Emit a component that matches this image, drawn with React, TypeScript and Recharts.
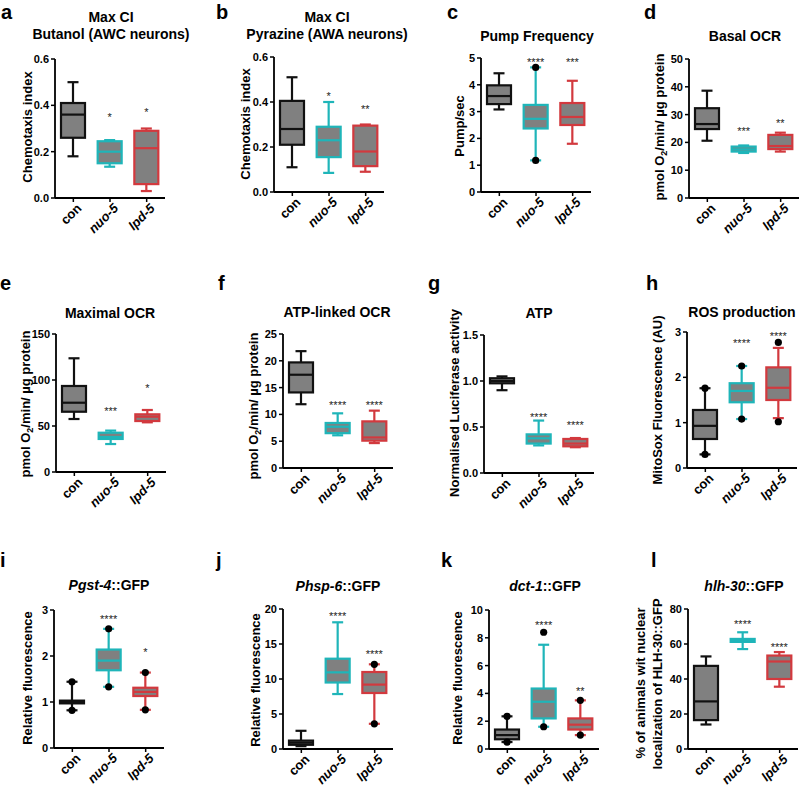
import React from "react";
import { Bar, ComposedChart, XAxis, YAxis } from "recharts";

const FONT = '"Liberation Sans", Arial, Helvetica, sans-serif';
const GROUPS = ["con", "nuo-5", "lpd-5"];
const COLORS = ["#111111", "#1fb5b9", "#d2393e"];
const BOX_FILL = "#808080";

// five-number summaries per group: [min, q1, median, q3, max]
const aBox = [[0.18, 0.26, 0.36, 0.41, 0.5], [0.135, 0.15, 0.2, 0.245, 0.25], [0.03, 0.06, 0.215, 0.29, 0.3]];
const aDots = [[], [], []];
const aSig = ["", "*", "*"];
const aSigAt = [0, 0.36, 0.38];
const aTicks = [0, 0.2, 0.4, 0.6];

const bBox = [[0.11, 0.21, 0.28, 0.405, 0.51], [0.085, 0.155, 0.23, 0.29, 0.4], [0.09, 0.115, 0.18, 0.295, 0.3]];
const bDots = [[], [], []];
const bSig = ["", "*", "**"];
const bSigAt = [0, 0.435, 0.377];
const bTicks = [0, 0.2, 0.4, 0.6];

const cBox = [[3.08, 3.28, 3.58, 3.98, 4.43], [1.18, 2.37, 2.73, 3.25, 4.65], [1.8, 2.5, 2.8, 3.32, 4.15]];
const cDots = [[], [4.65, 1.18], []];
const cSig = ["", "****", "***"];
const cSigAt = [0, 4.93, 4.93];
const cTicks = [0, 1, 2, 3, 4, 5];

const dBox = [[20.6, 24.8, 26.6, 32.3, 38.6], [16.2, 16.7, 17.5, 18.5, 18.9], [16.7, 17.6, 18.7, 22.7, 23.5]];
const dDots = [[], [], []];
const dSig = ["", "***", "**"];
const dSigAt = [0, 24.7, 27.8];
const dTicks = [0, 10, 20, 30, 40, 50];

const eBox = [[57.6, 65.5, 75.3, 93.5, 123.6], [30.4, 35.9, 38, 42.7, 45], [54, 55.4, 60.1, 62.7, 67.4]];
const eDots = [[], [], []];
const eSig = ["", "***", "*"];
const eSigAt = [0, 69, 93.5];
const eTicks = [0, 50, 100, 150];

const fBox = [[11.9, 14.1, 17.4, 19.7, 21.8], [6.1, 6.5, 7.7, 8.4, 10.2], [4.65, 5.1, 5.7, 8.7, 10.7]];
const fDots = [[], [], []];
const fSig = ["", "****", "****"];
const fSigAt = [0, 12.1, 12.1];
const fTicks = [0, 5, 10, 15, 20, 25];

const gBox = [[0.9, 0.975, 1.0, 1.03, 1.05], [0.3, 0.32, 0.377, 0.42, 0.57], [0.28, 0.29, 0.32, 0.37, 0.38]];
const gDots = [[], [], []];
const gSig = ["", "****", "****"];
const gSigAt = [0, 0.63, 0.54];
const gTicks = [0, 0.5, 1.0, 1.5];

const hBox = [[0.3, 0.64, 0.93, 1.28, 1.76], [1.08, 1.45, 1.7, 1.87, 2.25], [1.1, 1.5, 1.77, 2.22, 2.65]];
const hDots = [[1.76, 0.3], [2.25, 1.08], [2.77, 1.02]];
const hSig = ["", "****", "****"];
const hSigAt = [0, 2.8, 2.96];
const hTicks = [0, 1, 2, 3];

const iBox = [[0.82, 0.97, 1.0, 1.03, 1.44], [1.33, 1.69, 1.9, 2.14, 2.59], [0.83, 1.13, 1.22, 1.31, 1.64]];
const iDots = [[1.44, 0.82], [2.59, 1.33], [1.64, 0.83]];
const iSig = ["", "****", "*"];
const iSigAt = [0, 2.84, 2.13];
const iTicks = [0, 1, 2, 3];

const jBox = [[0.4, 0.6, 0.9, 1.2, 2.6], [7.85, 9.5, 10.95, 12.9, 18.1], [3.6, 8.0, 9.2, 11.0, 12.1]];
const jDots = [[], [], [12.1, 3.6]];
const jSig = ["", "****", "****"];
const jSigAt = [0, 19.3, 13.9];
const jTicks = [0, 5, 10, 15, 20];

const kBox = [[0.5, 0.7, 1.0, 1.4, 2.35], [1.6, 2.2, 3.4, 4.35, 7.5], [1.0, 1.4, 1.75, 2.2, 3.5]];
const kDots = [[2.35, 0.5], [8.4, 1.6], [3.5, 1.0]];
const kSig = ["", "****", "**"];
const kSigAt = [0, 9.1, 4.35];
const kTicks = [0, 2, 4, 6, 8, 10];

const lBox = [[14, 16.5, 27.2, 47.5, 52.9], [57.1, 61.2, 62, 62.9, 66.7], [35.6, 40, 50, 53.4, 55.4]];
const lDots = [[], [], []];
const lSig = ["", "****", "****"];
const lSigAt = [0, 72.4, 59.6];
const lTicks = [0, 20, 40, 60, 80];

// layout: x0 = y-axis pixel, top = pixel of top tick, base = pixel of 0
const PANELS = [
  { box: aBox, dots: aDots, sig: aSig, sigAt: aSigAt, ticks: aTicks, dec: 1, x0: 55, top: 59, base: 198 },
  { box: bBox, dots: bDots, sig: bSig, sigAt: bSigAt, ticks: bTicks, dec: 1, x0: 274, top: 57, base: 192 },
  { box: cBox, dots: cDots, sig: cSig, sigAt: cSigAt, ticks: cTicks, dec: 0, x0: 481, top: 58, base: 192 },
  { box: dBox, dots: dDots, sig: dSig, sigAt: dSigAt, ticks: dTicks, dec: 0, x0: 689, top: 59, base: 198 },
  { box: eBox, dots: eDots, sig: eSig, sigAt: eSigAt, ticks: eTicks, dec: 0, x0: 56, top: 334, base: 472 },
  { box: fBox, dots: fDots, sig: fSig, sigAt: fSigAt, ticks: fTicks, dec: 0, x0: 283, top: 334, base: 468 },
  { box: gBox, dots: gDots, sig: gSig, sigAt: gSigAt, ticks: gTicks, dec: 1, x0: 484, top: 335, base: 473 },
  { box: hBox, dots: hDots, sig: hSig, sigAt: hSigAt, ticks: hTicks, dec: 0, x0: 687, top: 332, base: 468 },
  { box: iBox, dots: iDots, sig: iSig, sigAt: iSigAt, ticks: iTicks, dec: 0, x0: 54, top: 610, base: 748 },
  { box: jBox, dots: jDots, sig: jSig, sigAt: jSigAt, ticks: jTicks, dec: 0, x0: 283, top: 609, base: 749 },
  { box: kBox, dots: kDots, sig: kSig, sigAt: kSigAt, ticks: kTicks, dec: 0, x0: 489, top: 610, base: 749 },
  { box: lBox, dots: lDots, sig: lSig, sigAt: lSigAt, ticks: lTicks, dec: 0, x0: 688, top: 609, base: 749 },
];

const LETTERS: [string, number, number][] = [
  ["a", 1, 19], ["b", 216, 19], ["c", 447, 19], ["d", 644, 19],
  ["e", 0, 290], ["f", 218, 290], ["g", 428, 290], ["h", 646, 290],
  ["i", 0, 567], ["j", 216, 567], ["k", 441, 567], ["l", 651, 567],
];

// [italic part, plain part]
const TITLES: { x: number; y: number; it: string; t: string }[] = [
  { x: 111, y: 22, it: "", t: "Max CI" },
  { x: 111, y: 39, it: "", t: "Butanol (AWC neurons)" },
  { x: 327, y: 22, it: "", t: "Max CI" },
  { x: 327, y: 39, it: "", t: "Pyrazine (AWA neurons)" },
  { x: 537, y: 41, it: "", t: "Pump Frequency" },
  { x: 745, y: 41, it: "", t: "Basal OCR" },
  { x: 110, y: 318, it: "", t: "Maximal OCR" },
  { x: 337, y: 317, it: "", t: "ATP-linked OCR" },
  { x: 539, y: 318, it: "", t: "ATP" },
  { x: 742, y: 317, it: "", t: "ROS production" },
  { x: 109, y: 590, it: "Pgst-4", t: "::GFP" },
  { x: 338, y: 591, it: "Phsp-6", t: "::GFP" },
  { x: 545, y: 591, it: "dct-1", t: "::GFP" },
  { x: 744, y: 591, it: "hlh-30", t: "::GFP" },
];

const OCR = "pmol O_2/min/ µg protein";
const YLABELS: { x: number; y: number; t: string }[] = [
  { x: 32, y: 127, t: "Chemotaxis index" },
  { x: 250, y: 124, t: "Chemotaxis index" },
  { x: 464, y: 126, t: "Pump/sec" },
  { x: 664, y: 127, t: OCR },
  { x: 30, y: 404, t: OCR },
  { x: 258, y: 406, t: OCR },
  { x: 459, y: 403, t: "Normalised Luciferase activity" },
  { x: 662, y: 400, t: "MitoSox Fluorescence (AU)" },
  { x: 32, y: 678, t: "Relative fluorescence" },
  { x: 260, y: 680, t: "Relative fluorescence" },
  { x: 462, y: 678, t: "Relative fluorescence" },
  { x: 645, y: 683, t: "% of animals wit nuclear" },
  { x: 662, y: 684, t: "localization of HLH-30::GFP" },
];

const PLOT_W = 110;
const AXIS_W = 40;
const M_TOP = 10;
const X_H = 44;

function BoxShape(props: any) {
  const { x, y, width, height, payload } = props;
  const [lo, q1, med, q3, hi] = payload.box;
  const top = Math.min(y, y + height);
  const bot = Math.max(y, y + height);
  const py = (v: number) => bot - ((v - lo) / (hi - lo)) * (bot - top);
  const cx = x + width / 2;
  const c = payload.color;
  const cap = 5.5;
  return (
    <g>
      <line x1={cx} x2={cx} y1={py(hi)} y2={py(q3)} stroke={c} strokeWidth={2.2} />
      <line x1={cx} x2={cx} y1={py(q1)} y2={py(lo)} stroke={c} strokeWidth={2.2} />
      <line x1={cx - cap} x2={cx + cap} y1={py(hi)} y2={py(hi)} stroke={c} strokeWidth={2.2} />
      <line x1={cx - cap} x2={cx + cap} y1={py(lo)} y2={py(lo)} stroke={c} strokeWidth={2.2} />
      <rect x={x} y={py(q3)} width={width} height={Math.max(py(q1) - py(q3), 0.5)} fill={BOX_FILL} stroke={c} strokeWidth={2.2} />
      <line x1={x} x2={x + width} y1={py(med)} y2={py(med)} stroke={c} strokeWidth={2.2} />
      {payload.dots.map((d: number, k: number) => (
        <circle key={k} cx={cx} cy={py(d)} r={3.6} fill="#000" />
      ))}
      {payload.sig && (
        <text x={cx} y={py(payload.sigAt) + 6} textAnchor="middle" fontSize={11} fill="#222" fontFamily={FONT}>
          {payload.sig}
        </text>
      )}
    </g>
  );
}

function XTick(props: any) {
  const { x, y, payload } = props;
  const ax = x + 9;
  const ay = y + 5;
  return (
    <text
      x={ax}
      y={ay}
      transform={`rotate(-45 ${ax} ${ay})`}
      textAnchor="end"
      fontSize={13}
      fontWeight="bold"
      fontStyle={payload.value === "con" ? "normal" : "italic"}
      fontFamily={FONT}
      fill="#000"
    >
      {payload.value}
    </text>
  );
}

function Panel({ p }: { p: (typeof PANELS)[number] }) {
  const rows = GROUPS.map((g, i) => ({
    name: g,
    range: [p.box[i][0], p.box[i][4]],
    box: p.box[i],
    dots: p.dots[i],
    sig: p.sig[i],
    sigAt: p.sigAt[i],
    color: COLORS[i],
  }));
  const plotH = p.base - p.top;
  const max = p.ticks[p.ticks.length - 1];
  return (
    <div style={{ position: "absolute", left: p.x0 - AXIS_W, top: p.top - M_TOP }}>
      <ComposedChart
        width={AXIS_W + PLOT_W + 4}
        height={M_TOP + plotH + X_H}
        data={rows}
        margin={{ top: M_TOP, right: 4, left: 0, bottom: 0 }}
      >
        <XAxis
          dataKey="name"
          height={X_H}
          interval={0}
          tick={<XTick />}
          tickSize={4}
          axisLine={{ stroke: "#000", strokeWidth: 1.8 }}
          tickLine={{ stroke: "#000", strokeWidth: 1.5 }}
        />
        <YAxis
          width={AXIS_W}
          domain={[0, max]}
          ticks={p.ticks}
          interval={0}
          tickFormatter={(v: number) => v.toFixed(p.dec)}
          tickSize={4}
          tick={{ fontSize: 11, fontWeight: "bold", fill: "#000", fontFamily: FONT }}
          axisLine={{ stroke: "#000", strokeWidth: 1.8 }}
          tickLine={{ stroke: "#000", strokeWidth: 1.5 }}
        />
        <Bar dataKey="range" barSize={24} shape={BoxShape} isAnimationActive={false} />
      </ComposedChart>
    </div>
  );
}

function YLabel({ x, y, t }: { x: number; y: number; t: string }) {
  const parts = t.split("_2");
  return (
    <text transform={`translate(${x},${y}) rotate(-90)`} textAnchor="middle" fontSize={13} fontWeight="bold" fontFamily={FONT} fill="#000">
      {parts.length === 1 ? (
        t
      ) : (
        <>
          {parts[0]}
          <tspan fontSize={9} dy={3}>2</tspan>
          <tspan dy={-3}>{parts[1]}</tspan>
        </>
      )}
    </text>
  );
}

export default function App() {
  return (
    <div
      style={{
        position: "absolute",
        left: 0,
        top: 0,
        width: 799,
        height: 792,
        overflow: "hidden",
        background: "#fff",
        fontFamily: FONT,
      }}
    >
      {PANELS.map((p, i) => (
        <Panel key={i} p={p} />
      ))}
      <svg width={799} height={792} style={{ position: "absolute", left: 0, top: 0, pointerEvents: "none" }}>
        {LETTERS.map(([l, x, y]) => (
          <text key={l} x={x} y={y} fontSize={20} fontWeight="bold" fontFamily={FONT} fill="#000">
            {l}
          </text>
        ))}
        {TITLES.map((t, i) => (
          <text key={i} x={t.x} y={t.y} textAnchor="middle" fontSize={14} fontWeight="bold" fontFamily={FONT} fill="#000">
            {t.it && <tspan fontStyle="italic">{t.it}</tspan>}
            {t.t}
          </text>
        ))}
        {YLABELS.map((l, i) => (
          <YLabel key={i} x={l.x} y={l.y} t={l.t} />
        ))}
      </svg>
    </div>
  );
}
